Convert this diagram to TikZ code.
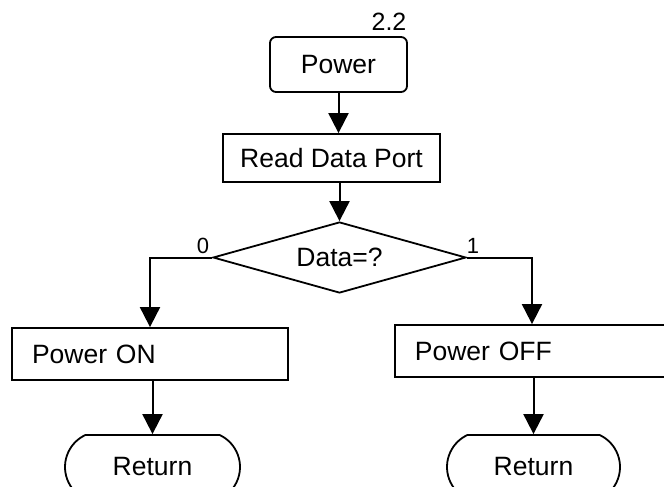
\documentclass[tikz,border=0pt]{standalone}
\usepackage{fontspec}
\setmainfont{Liberation Sans}
\usetikzlibrary{arrows.meta,shapes.geometric,shapes.misc}
\begin{document}
\begin{tikzpicture}[x=1pt,y=-1pt,
  box/.style={draw,line width=1.8pt,inner sep=0pt,font=\fontsize{26.5}{30}\selectfont},
  procbox/.style={box,rectangle},
  leftbox/.style={box,rectangle,inner xsep=20pt,align=left},
  termbox/.style={box,rounded rectangle,rounded rectangle arc length=130,minimum width=175pt,minimum height=64pt},
  decbox/.style={box,diamond,aspect=3.56,minimum width=253pt,minimum height=71pt},
  conn/.style={line width=2pt,-{Triangle[length=20pt,width=20pt]}},
  lbl/.style={inner sep=0pt,font=\fontsize{22}{26}\selectfont},
  numlbl/.style={inner sep=0pt,font=\fontsize{25}{30}\selectfont}]
\clip (0,0) rectangle (664,487);
\fill[white] (0,0) rectangle (664,487);

\node[numlbl] (num) at (389,22) {2.2};
\node[box,rectangle,rounded corners=6pt,minimum width=137pt,minimum height=55pt] (power) at (338.5,64.5) {Power};
\node[procbox,minimum width=217pt,minimum height=48pt] (read) at (331.5,158) {Read Data Port};
\node[decbox] (dia) at (339.5,257.5) {Data=?};
\node[leftbox,text width=236pt,minimum height=52pt] (on) at (150,354) {Power ON};
\node[leftbox,text width=270pt,minimum height=52pt,anchor=west] (off) at (394,351) {Power OFF};
\node[termbox] (ret1) at (152.5,467) {Return};
\node[termbox,minimum width=173pt] (ret2) at (533.5,467) {Return};

\node[lbl] (l0) at (203,246) {0};
\node[lbl] (l1) at (473,246) {1};

\coordinate (offin) at (532,0);

\draw[conn] (power.south) -- (power.south |- read.north);
\draw[conn] (dia.north |- read.south) -- (dia.north);
\draw[conn] (dia.west) -| (on.north);
\draw[conn] (dia.east) -| (offin |- off.north);
\draw[conn] (ret1.north |- on.south) -- (ret1.north);
\draw[conn] (ret2.north |- off.south) -- (ret2.north);
\end{tikzpicture}
\end{document}
